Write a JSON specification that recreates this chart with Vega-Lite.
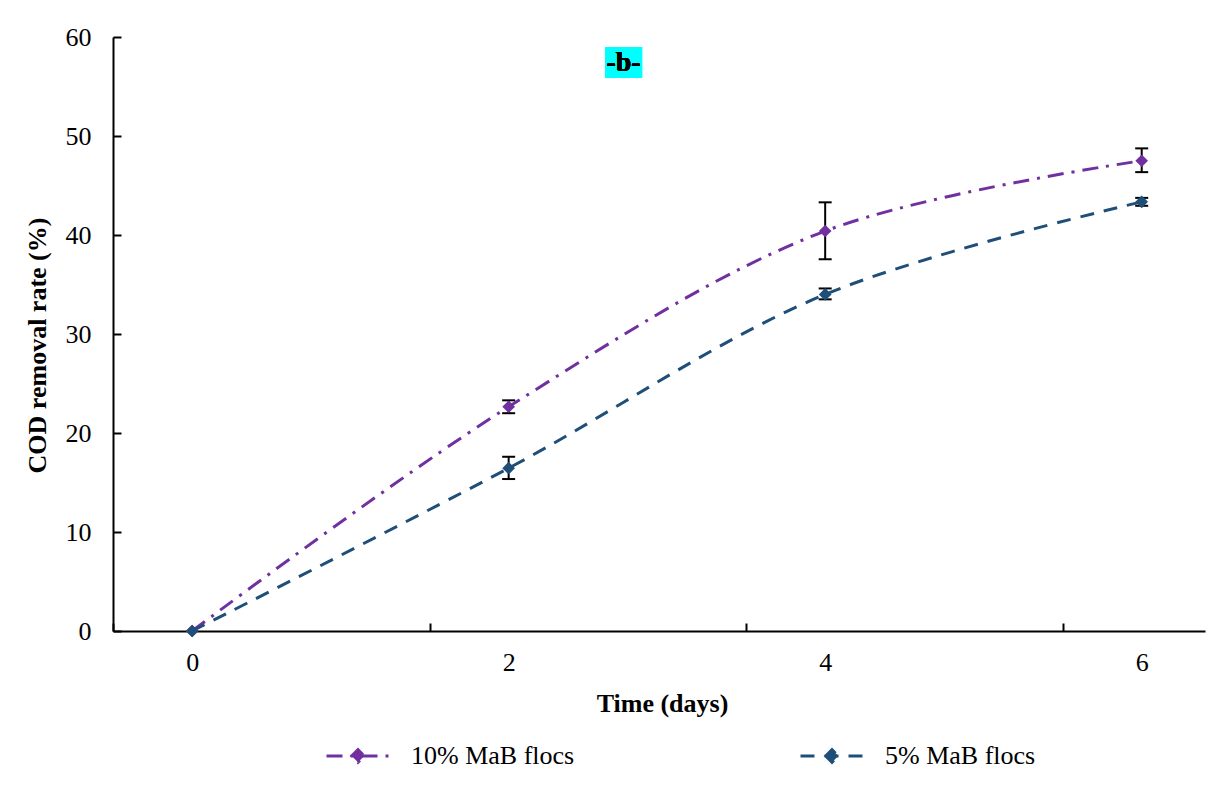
{
  "$schema": "https://vega.github.io/schema/vega-lite/v6.json",
  "width": 1092,
  "height": 594,
  "autosize": "none",
  "padding": {"left": 113, "top": 37, "right": 1, "bottom": 154},
  "background": "white",
  "config": {
    "view": {"stroke": null},
    "font": "Liberation Serif",
    "axis": {"grid": false, "domainColor": "#000", "domainWidth": 2, "tickColor": "#000", "tickWidth": 2, "labelColor": "#000", "titleColor": "#000", "labelFont": "Liberation Serif", "titleFont": "Liberation Serif", "labelFontSize": 26, "titleFontSize": 26, "titleFontWeight": "bold"},
    "legend": {"labelFont": "Liberation Serif"}
  },
  "data": {
    "values": [
      {"day": 0, "series": "10% MaB flocs", "rate": 0, "lo": 0, "hi": 0},
      {"day": 2, "series": "10% MaB flocs", "rate": 22.65, "lo": 22.0, "hi": 23.3},
      {"day": 4, "series": "10% MaB flocs", "rate": 40.4, "lo": 37.55, "hi": 43.3},
      {"day": 6, "series": "10% MaB flocs", "rate": 47.5, "lo": 46.35, "hi": 48.75},
      {"day": 0, "series": "5% MaB flocs", "rate": 0, "lo": 0, "hi": 0},
      {"day": 2, "series": "5% MaB flocs", "rate": 16.45, "lo": 15.35, "hi": 17.6},
      {"day": 4, "series": "5% MaB flocs", "rate": 34.0, "lo": 33.5, "hi": 34.6},
      {"day": 6, "series": "5% MaB flocs", "rate": 43.35, "lo": 42.95, "hi": 43.75}
    ]
  },
  "layer": [
    {
      "mark": {"type": "rect", "color": "#00FFFF"},
      "encoding": {
        "x": {"datum": 2.609, "type": "quantitative", "scale": {"domain": [-0.5, 6.4], "nice": false, "zero": false}},
        "x2": {"datum": 2.843},
        "y": {"datum": 58.99, "type": "quantitative", "scale": {"domain": [0, 60], "nice": false}},
        "y2": {"datum": 55.86}
      }
    },
    {
      "mark": {"type": "text", "text": "-b-", "font": "Liberation Serif", "fontSize": 28, "fontWeight": "bold", "color": "#000", "baseline": "middle", "align": "center"},
      "encoding": {
        "x": {"datum": 2.726, "type": "quantitative"},
        "y": {"datum": 57.35, "type": "quantitative"}
      }
    },
    {
      "mark": {"type": "line", "interpolate": "catmull-rom", "strokeWidth": 3},
      "encoding": {
        "x": {
          "field": "day", "type": "quantitative",
          "axis": {
            "title": "Time (days)",
            "values": [-0.5, 0, 1.5, 2, 3.5, 4, 5.5, 6],
            "labelExpr": "datum.value % 2 === 0 ? '' + datum.value : ''",
            "tickOpacity": {"condition": {"test": "datum.value % 2 === 0", "value": 0}, "value": 1},
            "tickSize": -8,
            "labelPadding": 26,
            "labelBaseline": "top",
            "labelFlush": false,
            "titleX": 549,
            "titleY": 80,
            "titleBaseline": "alphabetic"
          }
        },
        "y": {
          "field": "rate", "type": "quantitative",
          "axis": {
            "title": "COD removal rate (%)",
            "values": [0, 10, 20, 30, 40, 50, 60],
            "tickSize": -8,
            "labelPadding": 30,
            "titleX": -76,
            "titleY": 308,
            "titleBaseline": "middle",
            "titleAlign": "center"
          }
        },
        "color": {
          "field": "series", "type": "nominal",
          "scale": {"domain": ["10% MaB flocs", "5% MaB flocs"], "range": ["#7030A0", "#1F4E79"]},
          "legend": {
            "title": null,
            "orient": "none",
            "direction": "horizontal",
            "legendX": 212,
            "legendY": 686,
            "padding": 0,
            "symbolType": "M-1,0L1,0M-0.2,0L0,-0.2L0.2,0L0,0.2Z",
            "symbolSize": 3969,
            "symbolStrokeWidth": 3,
            "labelFont": "Liberation Serif",
            "labelFontSize": 26,
            "labelColor": "#000",
            "labelOffset": 20,
            "columnPadding": 219,
            "labelLimit": 400,
            "encode": {"symbols": {"update": {"fill": {"scale": "color", "field": "value"}}}}
          }
        },
        "strokeDash": {
          "field": "series", "type": "nominal",
          "scale": {"domain": ["10% MaB flocs", "5% MaB flocs"], "range": [[16, 8, 3, 8], [14, 10]]},
          "legend": null
        }
      }
    },
    {
      "transform": [{"filter": "datum.day > 0"}],
      "mark": {"type": "rule", "color": "#000", "strokeWidth": 2},
      "encoding": {
        "x": {"field": "day", "type": "quantitative"},
        "y": {"field": "lo", "type": "quantitative"},
        "y2": {"field": "hi"}
      }
    },
    {
      "transform": [{"filter": "datum.day > 0"}],
      "mark": {"type": "tick", "orient": "horizontal", "color": "#000", "size": 13, "thickness": 2, "opacity": 1},
      "encoding": {
        "x": {"field": "day", "type": "quantitative"},
        "y": {"field": "lo", "type": "quantitative"}
      }
    },
    {
      "transform": [{"filter": "datum.day > 0"}],
      "mark": {"type": "tick", "orient": "horizontal", "color": "#000", "size": 13, "thickness": 2, "opacity": 1},
      "encoding": {
        "x": {"field": "day", "type": "quantitative"},
        "y": {"field": "hi", "type": "quantitative"}
      }
    },
    {
      "mark": {"type": "point", "shape": "diamond", "filled": true, "size": 160, "opacity": 1},
      "encoding": {
        "x": {"field": "day", "type": "quantitative"},
        "y": {"field": "rate", "type": "quantitative"},
        "color": {"field": "series", "type": "nominal", "legend": null}
      }
    }
  ]
}
